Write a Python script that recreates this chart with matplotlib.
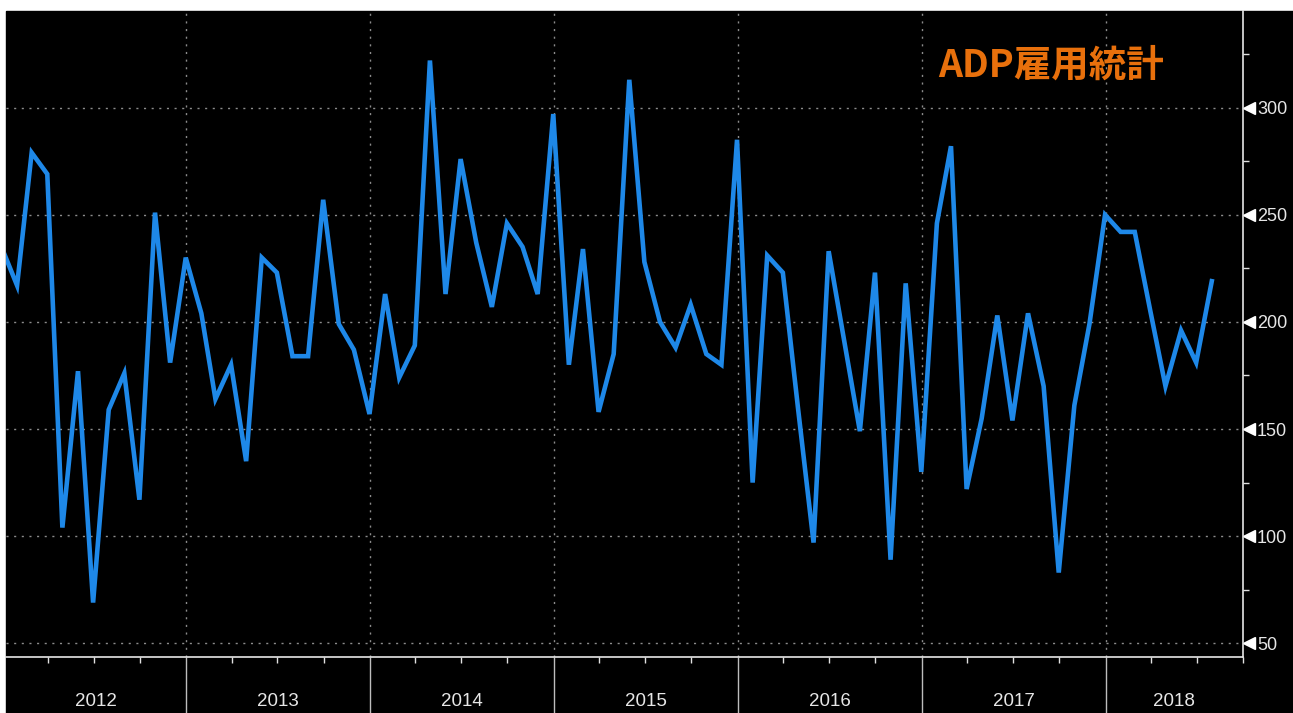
import numpy as np
import pandas as pd
import matplotlib
matplotlib.use("Agg")
from matplotlib import pyplot as plt
import matplotlib.dates as mdates
import matplotlib.transforms as mtransforms
from matplotlib.patches import Rectangle

# ADP monthly employment change (thousands), Dec 2011 - Jul 2018
adp = [235,
       217, 279, 269, 104, 177, 69, 159, 176, 117, 251, 181, 230,   # 2012
       204, 164, 180, 135, 230, 223, 184, 184, 257, 199, 187, 157,  # 2013
       213, 174, 189, 322, 213, 276, 237, 207, 246, 235, 213, 297,  # 2014
       180, 234, 158, 185, 313, 228, 200, 188, 208, 185, 180, 285,  # 2015
       125, 231, 223, 160, 97, 233, 191, 149, 223, 89, 218, 130,    # 2016
       246, 282, 122, 155, 203, 154, 204, 170, 83, 161, 199, 250,   # 2017
       242, 242, 205, 170, 196, 181, 219]                           # 2018
years = [2012, 2013, 2014, 2015, 2016, 2017, 2018]
yticks = [50, 100, 150, 200, 250, 300]
yminor = [75, 125, 175, 225, 275, 325]
title = "ADP雇用統計"

# month-end dates
dates = pd.date_range("2012-01-01", periods=len(adp), freq="MS") - pd.Timedelta(days=1)

W, H = 1293, 713
fig = plt.figure(figsize=(W / 100, H / 100), dpi=100, facecolor="white")
# black panel behind everything (thin white strips left and top)
fig.patches.append(Rectangle((6 / W, 0), 1, 1 - 11 / H, transform=fig.transFigure,
                             color="black", zorder=-10))

ax = fig.add_axes([6 / W, 56 / H, (1243 - 6) / W, (657 - 11) / H])
ax.set_facecolor("black")

ax.plot(dates, adp, color="#1E88E8", lw=3.3, solid_joinstyle="miter", zorder=3)

xmin, xmax = pd.Timestamp("2012-01-09"), pd.Timestamp("2018-10-01")
ax.set_xlim(xmin, xmax)
ax.set_ylim(43.6, 345.1)

tick_font = ["Liberation Sans", "DejaVu Sans"]

# x axis: year separators + quarter ticks
ax.xaxis.set_major_locator(mdates.YearLocator())
ax.xaxis.set_minor_locator(mdates.MonthLocator(bymonth=[4, 7, 10]))
ax.xaxis.set_major_formatter(plt.NullFormatter())
ax.tick_params(axis="x", which="major", length=41, width=1, color="#bdbdbd")
ax.tick_params(axis="x", which="minor", length=4, width=1, color="#e0e0e0")

for y in years:
    start = max(pd.Timestamp(f"{y}-01-01"), xmin)
    end = min(pd.Timestamp(f"{y + 1}-01-01"), xmax)
    mid = start + (end - start) / 2
    ax.annotate(str(y), xy=(mid, 0), xycoords=("data", "axes fraction"),
                xytext=(0, -26), textcoords="offset points", ha="center", va="top",
                color="#e6e6e6", fontsize=13.5, family=tick_font, annotation_clip=False)

# y axis on the right with triangle markers
ax.yaxis.tick_right()
ax.set_yticks(yticks)
ax.set_yticks(yminor, minor=True)
ax.tick_params(axis="y", which="major", length=0, pad=10, labelcolor="#e6e6e6",
               labelsize=13)
ax.tick_params(axis="y", which="minor", length=4, width=1, color="#e0e0e0")
for lab in ax.get_yticklabels():
    lab.set_family(tick_font)

tri = mtransforms.blended_transform_factory(ax.transAxes, ax.transData)
ax.plot(np.full(len(yticks), 1.0048), yticks, marker="<", markersize=9, ls="none",
        color="white", transform=tri, clip_on=False)

ax.grid(which="major", color="#8c8c8c", linestyle=(0, (1.5, 4)), lw=1)

for side in ["left", "top"]:
    ax.spines[side].set_visible(False)
for side in ["bottom", "right"]:
    ax.spines[side].set_color("#e6e6e6")
    ax.spines[side].set_linewidth(1.2)

fig.text(1051 / W, 1 - 65 / H, title, color="#E8700C", fontsize=27, fontweight="bold",
         family=["Noto Sans CJK JP", "DejaVu Sans"], ha="center", va="center")

plt.savefig("out.png", dpi=100, facecolor=fig.get_facecolor())
